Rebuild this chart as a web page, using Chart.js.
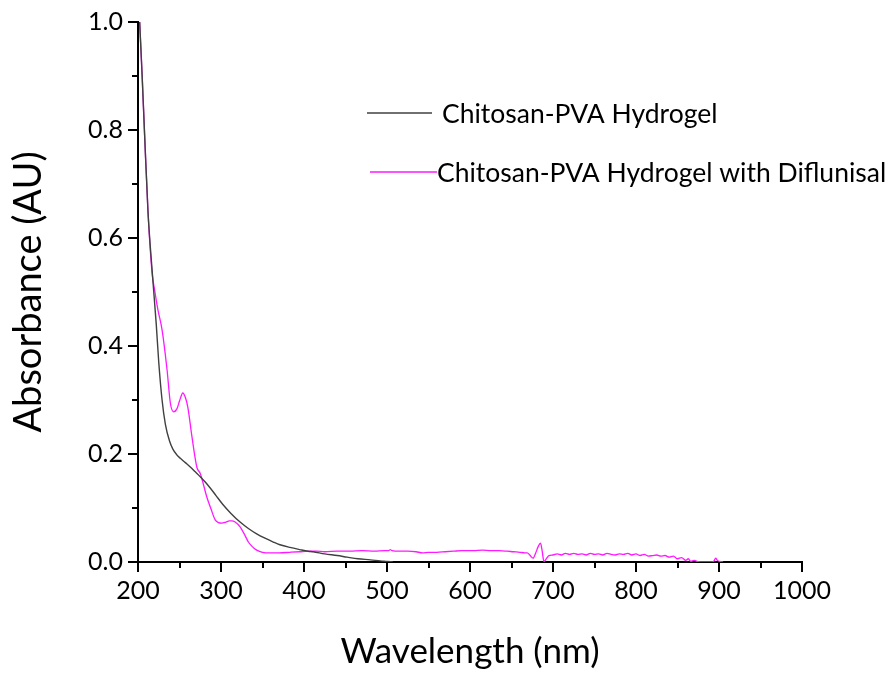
<!DOCTYPE html>
<html>
<head>
<meta charset="utf-8">
<script src="https://cdn.jsdelivr.net/npm/chart.js@4.4.1/dist/chart.umd.min.js"></script>
<style>
  html, body { margin: 0; padding: 0; background: #fff; }
  #uv { display: block; }
</style>
</head>
<body>
<canvas id="uv" width="895" height="675"></canvas>
<script>
// wavelength (nm) / absorbance (AU)
const wlPlain = [202, 205, 208, 212, 217, 222, 225, 229, 233, 238, 242, 247, 251, 257, 263, 269, 275, 281, 287, 294, 302, 312, 323, 333, 343, 353, 363, 371, 383, 395, 405, 411, 425, 440, 452, 465, 480, 492, 500, 507]
const absPlain = [1.0, 0.90, 0.79, 0.65, 0.54, 0.44, 0.37, 0.30, 0.255, 0.224, 0.209, 0.198, 0.192, 0.184, 0.176, 0.167, 0.158, 0.148, 0.137, 0.123, 0.107, 0.09, 0.074, 0.062, 0.052, 0.044, 0.037, 0.032, 0.027, 0.023, 0.02, 0.019, 0.015, 0.012, 0.009, 0.006, 0.004, 0.002, 0.001, 0.0]

const wlDrug = [202, 205, 208, 212, 217, 220, 224, 229, 235, 239, 243, 247, 250, 254, 257, 260, 265, 271, 275, 283, 288, 293, 297, 301, 306, 310, 313, 317, 323, 328, 333, 338, 343, 350, 359, 370, 383, 395, 405, 415, 425, 440, 455, 470, 485, 497, 502, 504, 506, 515, 525, 535, 543, 550, 560, 570, 580, 590, 604, 615, 625, 635, 645, 652, 660, 666, 669, 672, 676, 679, 682, 685, 687, 689, 692, 695, 700, 705, 710, 715, 720, 725, 730, 735, 740, 745, 750, 755, 760, 765, 770, 775, 780, 785, 790, 795, 800, 805, 810, 815, 820, 825, 830, 835, 840, 845, 850, 855, 860, 863, 866, 870, 875, 880, 885, 890, 894, 896, 898, 901, 905]
const absDrug = [1.0, 0.90, 0.79, 0.65, 0.535, 0.504, 0.467, 0.43, 0.356, 0.294, 0.278, 0.284, 0.298, 0.313, 0.305, 0.287, 0.232, 0.175, 0.164, 0.12, 0.098, 0.078, 0.073, 0.072, 0.074, 0.076, 0.076, 0.074, 0.065, 0.052, 0.037, 0.028, 0.022, 0.018, 0.017, 0.017, 0.018, 0.019, 0.02, 0.02, 0.019, 0.02, 0.02, 0.021, 0.02, 0.021, 0.021, 0.023, 0.021, 0.02, 0.02, 0.019, 0.017, 0.018, 0.018, 0.019, 0.02, 0.021, 0.021, 0.022, 0.021, 0.021, 0.02, 0.019, 0.018, 0.017, 0.017, 0.013, 0.007, 0.016, 0.028, 0.035, 0.02, 0.001, 0.006, 0.012, 0.013, 0.015, 0.013, 0.016, 0.014, 0.016, 0.014, 0.015, 0.013, 0.016, 0.014, 0.015, 0.013, 0.016, 0.014, 0.013, 0.015, 0.014, 0.016, 0.013, 0.015, 0.012, 0.014, 0.011, 0.012, 0.013, 0.011, 0.012, 0.009, 0.011, 0.006, 0.008, 0.003, 0.006, 0.001, 0.003, 0.0005, 0.0, 0.0, 0.0, 0.002, 0.007, 0.003, 0.001, 0.0]

const seriesNames = ['Chitosan-PVA Hydrogel', 'Chitosan-PVA Hydrogel with Diflunisal']
const seriesColors = ['#404040', '#ff19ff']
const xTicks = [200, 300, 400, 500, 600, 700, 800, 900, 1000]
const xMinor = [250, 350, 450, 550, 650, 750, 850, 950]
const yTicks = [0.0, 0.2, 0.4, 0.6, 0.8, 1.0]
const yMinor = [0.1, 0.3, 0.5, 0.7, 0.9]

const FONT = 'Lato, "Open Sans", sans-serif'

const toPoints = (xs, ys) => xs.map((x, i) => ({ x: x, y: ys[i] }))

// minor ticks + the floating legend
const extras = {
    id: 'extras',
    afterDraw(chart) {
        const { ctx, scales: { x, y } } = chart
        ctx.save()
        ctx.strokeStyle = '#000'
        ctx.lineWidth = 2
        ctx.beginPath()
        xMinor.forEach(v => {
            const px = Math.round(x.getPixelForValue(v))
            ctx.moveTo(px, y.bottom)
            ctx.lineTo(px, y.bottom + 6)
        })
        yMinor.forEach(v => {
            const py = Math.round(y.getPixelForValue(v))
            ctx.moveTo(x.left, py)
            ctx.lineTo(x.left - 6, py)
        })
        ctx.stroke()

        // legend
        const items = [
            { x1: 367, x2: 432, y: 113, tx: 442 },
            { x1: 370, x2: 437, y: 172, tx: 437 }
        ]
        ctx.font = '26.5px ' + FONT
        ctx.textBaseline = 'middle'
        ctx.fillStyle = '#000'
        items.forEach((it, i) => {
            ctx.strokeStyle = seriesColors[i]
            ctx.lineWidth = 1.5
            ctx.beginPath()
            ctx.moveTo(it.x1, it.y)
            ctx.lineTo(it.x2, it.y)
            ctx.stroke()
            ctx.fillText(seriesNames[i], it.tx, it.y + 1)
        })
        ctx.restore()
    }
}

new Chart(document.getElementById('uv'), {
    type: 'line',
    data: {
        datasets: [
            {
                label: seriesNames[0],
                data: toPoints(wlPlain, absPlain),
                borderColor: seriesColors[0],
                borderWidth: 1.4,
                pointRadius: 0,
                cubicInterpolationMode: 'monotone'
            },
            {
                label: seriesNames[1],
                data: toPoints(wlDrug, absDrug),
                borderColor: seriesColors[1],
                borderWidth: 1.3,
                pointRadius: 0,
                cubicInterpolationMode: 'monotone'
            }
        ]
    },
    options: {
        responsive: false,
        animation: false,
        devicePixelRatio: 1,
        layout: { padding: { top: 22, right: 93, left: 0, bottom: 0 } },
        plugins: {
            legend: { display: false },
            tooltip: { enabled: false }
        },
        scales: {
            x: {
                type: 'linear',
                min: 200,
                max: 1000,
                afterFit: scale => { scale.height = 113 },
                afterBuildTicks: scale => { scale.ticks = xTicks.map(v => ({ value: v })) },
                grid: { drawOnChartArea: false, drawTicks: true, tickLength: 10, color: '#000', lineWidth: 2 },
                border: { display: true, color: '#000', width: 2 },
                ticks: {
                    color: '#000',
                    padding: 4,
                    maxRotation: 0,
                    font: { family: FONT, size: 25 },
                    callback: v => String(v)
                },
                title: {
                    display: true,
                    text: 'Wavelength (nm)',
                    color: '#000',
                    font: { family: FONT, size: 35 },
                    padding: { top: 0, bottom: 2 }
                }
            },
            y: {
                type: 'linear',
                min: 0,
                max: 1,
                afterFit: scale => { scale.width = 138 },
                afterBuildTicks: scale => { scale.ticks = yTicks.map(v => ({ value: v })) },
                grid: { drawOnChartArea: false, drawTicks: true, tickLength: 10, color: '#000', lineWidth: 2 },
                border: { display: true, color: '#000', width: 2 },
                ticks: {
                    color: '#000',
                    padding: 5,
                    font: { family: FONT, size: 25 },
                    callback: v => v.toFixed(1)
                },
                title: {
                    display: true,
                    text: 'Absorbance (AU)',
                    color: '#000',
                    font: { family: FONT, size: 38 },
                    padding: { top: 6, bottom: 0 }
                }
            }
        }
    },
    plugins: [extras]
})
</script>
</body>
</html>
